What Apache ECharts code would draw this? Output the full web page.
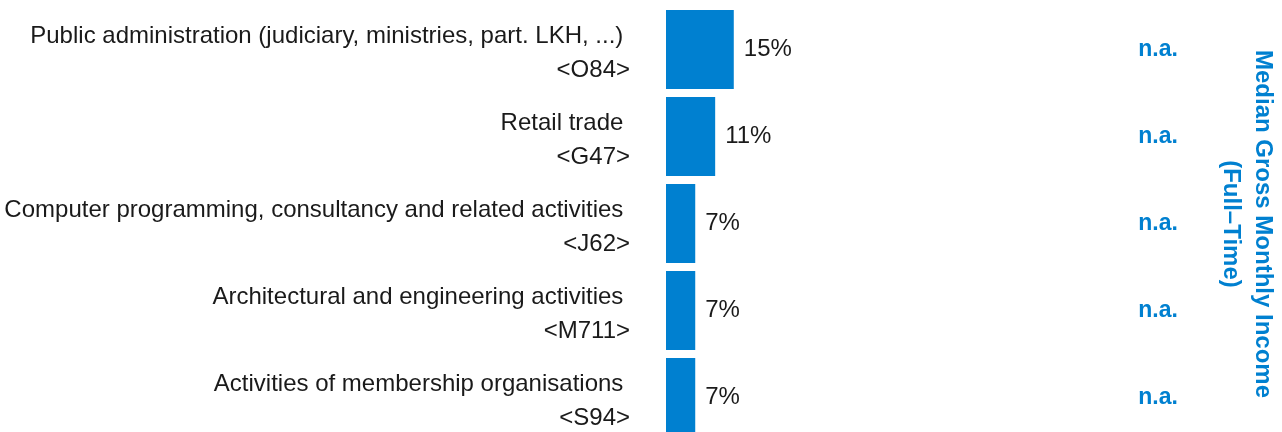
<!DOCTYPE html>
<html><head><meta charset="utf-8">
<script src="https://cdn.jsdelivr.net/npm/echarts@6/dist/echarts.min.js"></script>
<style>html,body{margin:0;padding:0;background:#fff}#c{width:1282px;height:432px}</style>
</head><body><div id="c"></div>
<script>
const categories = [
  "Public administration (judiciary, ministries, part. LKH, ...)",
  "Retail trade",
  "Computer programming, consultancy and related activities",
  "Architectural and engineering activities",
  "Activities of membership organisations"
];
const codes = ["<O84>", "<G47>", "<J62>", "<M711>", "<S94>"];
const shares = [15.3, 11.1, 6.6, 6.6, 6.6];
const incomes = ["n.a.", "n.a.", "n.a.", "n.a.", "n.a."];
const incomeTitle = "Median Gross Monthly Income\n(Full\u2013Time)";

const BLUE = "#0080d0";
const SANS = "'Liberation Sans', Arial, sans-serif";

const chart = echarts.init(document.getElementById('c'), null, {renderer: 'canvas'});
chart.setOption({
  animation: false,
  grid: {left: 666, width: 443, top: 6, height: 435, containLabel: false, outerBoundsMode: 'none'},
  xAxis: {type: 'value', min: 0, max: 100, show: false},
  yAxis: [
    {
      type: 'category', inverse: true, data: categories,
      axisLine: {show: false}, axisTick: {show: false}, splitLine: {show: false},
      axisLabel: {
        margin: 36, align: 'right', color: '#1a1a1a',
        fontFamily: SANS, fontSize: 24,
        formatter: (v, i) => '{t|' + v + ' }\n{c|' + codes[i] + '}',
        rich: {
          t: {fontFamily: SANS, fontSize: 24, lineHeight: 42, color: '#1a1a1a'},
          c: {fontFamily: SANS, fontSize: 24, lineHeight: 26, color: '#1a1a1a'}
        }
      }
    },
    {
      type: 'category', inverse: true, position: 'right', data: incomes,
      axisLine: {show: false}, axisTick: {show: false}, splitLine: {show: false},
      axisLabel: {
        margin: 49, align: 'center', color: BLUE,
        fontFamily: SANS, fontWeight: 'bold', fontSize: 23
      }
    }
  ],
  series: [{
    type: 'bar', data: shares, barCategoryGap: '9%',
    itemStyle: {color: BLUE},
    label: {
      show: true, position: 'right', distance: 10, color: '#1a1a1a',
      fontFamily: SANS, fontSize: 24,
      formatter: p => Math.round(p.value) + '%'
    }
  }],
  graphic: [{
    type: 'text', x: 1247, y: 224, rotation: -Math.PI / 2,
    style: {
      text: incomeTitle, fill: BLUE, fontFamily: SANS, fontWeight: 'bold',
      fontSize: 24, lineHeight: 32, align: 'center', verticalAlign: 'middle'
    }
  }]
});
</script></body></html>
